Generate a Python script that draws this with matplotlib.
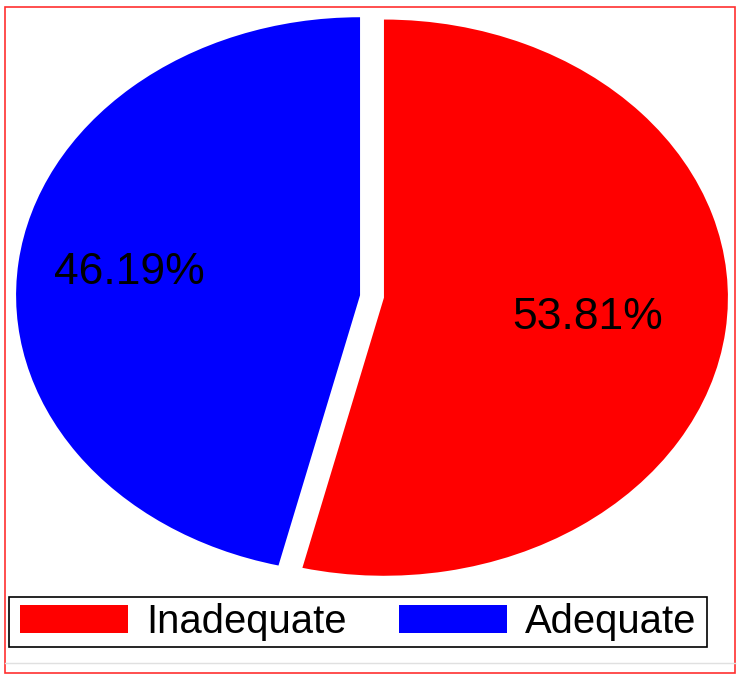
import matplotlib
matplotlib.use("Agg")
import numpy as np
import matplotlib.pyplot as plt
from matplotlib.patches import Rectangle
from matplotlib.lines import Line2D

labels = ['Inadequate', 'Adequate']
shares = [53.81, 46.19]
colors = ['#ff0000', '#0000ff']

plt.rcParams['font.family'] = ['Liberation Sans', 'DejaVu Sans']

W, H = 744, 681
fig = plt.figure(figsize=(W / 100, H / 100), dpi=100)

# pie drawn as an ellipse: axes stretched, aspect left auto
ax = fig.add_axes([16 / W, (H - 576) / H, 712 / W, 559 / H])
wedges, texts, autotexts = ax.pie(shares, colors=colors, startangle=90,
                                  counterclock=False, explode=[0.035, 0.035],
                                  autopct='%.2f%%', pctdistance=0.63,
                                  wedgeprops={'linewidth': 0},
                                  textprops={'fontsize': 32, 'color': 'black'})
ax.set_aspect('auto')
ax.set_xlim(-1.035, 1.035)
ax.set_ylim(-1.005, 1.005)
ax.axis('off')

# the percentages don't sit at the same distance from the centre
pct_dist = [0.595, 0.675]
for w, t, d in zip(wedges, autotexts, pct_dist):
    mid = np.deg2rad((w.theta1 + w.theta2) / 2)
    cx, cy = w.center
    t.set_position((cx + d * np.cos(mid), cy + d * np.sin(mid)))

leg = fig.legend(wedges, labels, ncol=2, loc='lower left',
                 bbox_to_anchor=(14 / W, (H - 647) / H), fontsize=28.8,
                 frameon=True, fancybox=False, edgecolor='black', framealpha=1,
                 handlelength=2.7, handleheight=0.68, handletextpad=0.45,
                 columnspacing=1.3, borderpad=0.15, borderaxespad=0)
frame = leg.get_frame()
frame.set_linewidth(1.2)
# extra room left/right only
frame.set_boxstyle('square', pad=0.12)
frame.set_mutation_aspect(0.001)

# outer red frame and faint line near the bottom
fig.add_artist(Line2D([5 / W, 735 / W], [(H - 663) / H] * 2,
                      color='#e0e0e0', lw=1))
fig.add_artist(Rectangle((5 / W, (H - 673) / H), 730 / W, 666 / H,
                         fill=False, edgecolor='#ff3030', lw=1.2))

fig.savefig('out.png', dpi=100)
